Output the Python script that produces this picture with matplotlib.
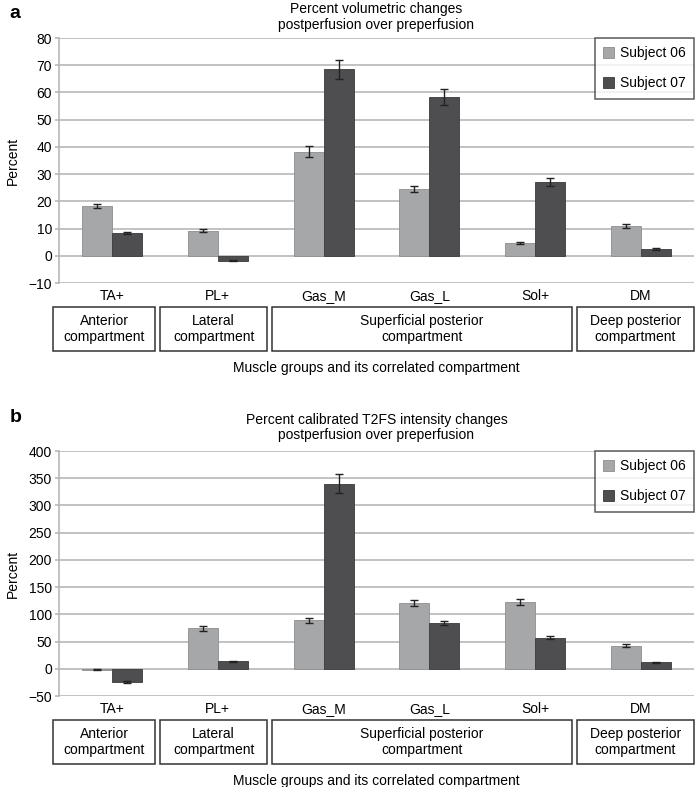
import numpy as np
import matplotlib
matplotlib.use("Agg")
import matplotlib.pyplot as plt
from matplotlib.patches import Rectangle
import matplotlib.transforms as mtransforms

plt.rcParams['font.family'] = ['Liberation Sans', 'DejaVu Sans']

# Datos
musculos = ["TA+", "PL+", "Gas_M", "Gas_L", "Sol+", "DM"]
compartimentos = ["Anterior\ncompartment", "Lateral\ncompartment",
                  "Superficial posterior\ncompartment", "Deep posterior\ncompartment"]
series = ["Subject 06", "Subject 07"]

vol_s06 = [18.3, 9.2, 38.3, 24.6, 4.6, 10.9]
vol_s07 = [8.4, -1.8, 68.5, 58.4, 27.0, 2.5]
vol_err06 = [0.9, 0.6, 2.0, 1.2, 0.3, 0.6]
vol_err07 = [0.5, 0.3, 3.5, 2.9, 1.4, 0.3]

t2_s06 = [-2.0, 74.0, 89.0, 121.0, 122.5, 42.5]
t2_s07 = [-24.5, 14.0, 340.0, 84.0, 57.0, 12.0]
t2_err06 = [1.0, 4.0, 5.0, 6.0, 6.0, 2.5]
t2_err07 = [2.0, 1.0, 18.0, 4.0, 3.0, 1.0]

C06 = "#a6a7a9"
C07 = "#4e4e50"
GRID = "#b8b8b8"

fig = plt.figure(figsize=(7.0, 7.87), dpi=100)


def panel(rect, v06, v07, e06, e07, ylim, step, titulo, letra, y_tit, y_letra):
    ax = fig.add_axes(rect)
    x = np.arange(len(musculos))
    w = 0.283
    ax.bar(x - w / 2, v06, w, color=C06, edgecolor="#8c8d8f", linewidth=0.6,
           label=series[0], zorder=3)
    ax.bar(x + w / 2, v07, w, color=C07, edgecolor="#3a3a3c", linewidth=0.6,
           label=series[1], zorder=3)
    ax.errorbar(x - w / 2, v06, yerr=e06, fmt="none", ecolor="#222222",
                elinewidth=1, capsize=3, capthick=1, zorder=4)
    ax.errorbar(x + w / 2, v07, yerr=e07, fmt="none", ecolor="#222222",
                elinewidth=1, capsize=3, capthick=1, zorder=4)

    ax.set_xlim(-0.5, len(musculos) - 0.5)
    ax.set_ylim(*ylim)
    ax.set_yticks(np.arange(ylim[0], ylim[1] + 1, step))
    ax.yaxis.grid(True, color=GRID, linewidth=1.2, zorder=0)
    ax.set_axisbelow(True)
    for s in ["top", "right", "bottom"]:
        ax.spines[s].set_visible(False)
    ax.spines["left"].set_color(GRID)
    ax.spines["left"].set_linewidth(1.2)
    ax.tick_params(axis="y", length=3, color=GRID, width=1.2, labelsize=10, pad=2)
    ax.tick_params(axis="x", length=0, labelbottom=False)
    ax.set_ylabel("Percent", fontsize=10, labelpad=6)

    # etiquetas de musculos
    trans = mtransforms.blended_transform_factory(ax.transData, ax.transAxes)
    for i, m in enumerate(musculos):
        ax.text(i, -0.053, m, transform=trans, ha="center", va="center", fontsize=10)

    # cajas de compartimentos
    cajas = [(-0.557, 0.407), (0.455, 1.466), (1.513, 4.35), (4.39, 5.5)]
    for (x0, x1), nombre in zip(cajas, compartimentos):
        r = Rectangle((x0, -0.278), x1 - x0, 0.18, transform=trans, fill=False,
                      edgecolor="#333333", linewidth=1.1, clip_on=False)
        ax.add_patch(r)
        ax.text((x0 + x1) / 2, -0.188, nombre, transform=trans, ha="center",
                va="center", fontsize=10, linespacing=1.15)

    ax.text(0.5, -0.347, "Muscle groups and its correlated compartment",
            transform=ax.transAxes, ha="center", va="center", fontsize=10)
    ax.text(0.5, y_tit, titulo, transform=ax.transAxes, ha="center", va="center",
            fontsize=10, linespacing=1.15)
    ax.text(-0.078, y_letra, letra, transform=ax.transAxes, ha="left", va="center",
            fontsize=14, fontweight="bold")

    leg = ax.legend(loc="upper right", bbox_to_anchor=(1.0, 1.0), frameon=True,
                    fancybox=False, fontsize=10, labelspacing=1.15,
                    handlelength=0.75, handleheight=0.75, handletextpad=0.45,
                    borderpad=0.6, borderaxespad=0)
    leg.get_frame().set_edgecolor("#333333")
    leg.get_frame().set_linewidth(1.1)
    return ax


panel([59 / 700, 1 - 283 / 787, 635 / 700, 245 / 787],
      vol_s06, vol_s07, vol_err06, vol_err07, (-10, 80), 10,
      "Percent volumetric changes\npostperfusion over preperfusion", "a",
      1.086, 1.102)

panel([59 / 700, 1 - 696 / 787, 635 / 700, 245 / 787],
      t2_s06, t2_s07, t2_err06, t2_err07, (-50, 400), 50,
      "Percent calibrated T2FS intensity changes\npostperfusion over preperfusion", "b",
      1.096, 1.135)

fig.savefig("out.png", dpi=100)
